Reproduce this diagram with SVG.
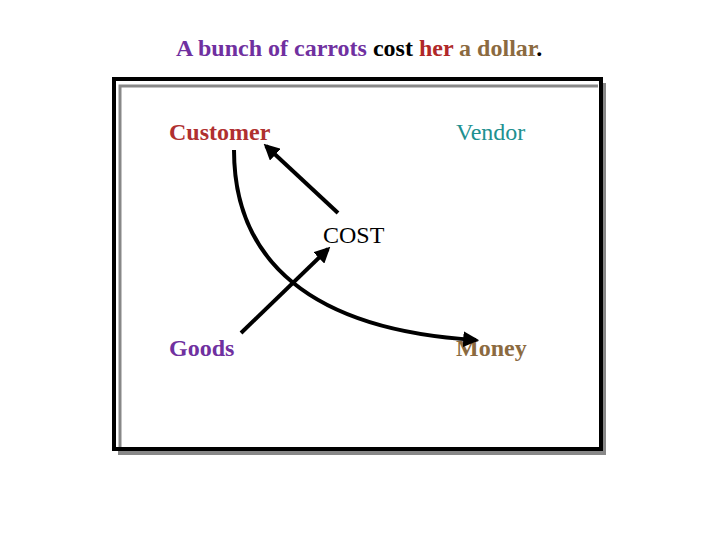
<svg xmlns="http://www.w3.org/2000/svg" width="720" height="540" viewBox="0 0 720 540">
<style>
text{font-family:"Liberation Serif","Times New Roman",serif;font-size:24px}
.b{font-weight:bold}
.c{fill:none;stroke:#000;stroke-width:4;marker-end:url(#ah)}
</style>
<defs><marker id="ah" viewBox="0 0 10 10" refX="8" refY="5" markerWidth="4" markerHeight="4" orient="auto" markerUnits="strokeWidth"><path d="M0,0L10,5L0,10z" fill="#000"/></marker></defs>
<rect width="720" height="540" fill="#fff"/>
<text x="176" y="56" class="b"><tspan fill="#7030A0">A bunch of carrots</tspan> <tspan fill="#000">cost</tspan> <tspan fill="#B02828">her</tspan> <tspan fill="#8B6A40">a dollar</tspan><tspan fill="#000">.</tspan></text>
<g id="frame">
<path d="M118,453H604V83" fill="none" stroke="#888" stroke-width="4"/>
<path d="M120,448V86H598" fill="none" stroke="#888" stroke-width="3"/>
<rect x="114" y="79" width="487" height="370" fill="none" stroke="#000" stroke-width="4"/>
</g>
<g id="customer"><text x="169" y="140" class="b" fill="#B03030">Customer</text></g>
<g id="vendor"><text x="456" y="140" fill="#209090">Vendor</text></g>
<g id="cost"><text x="323" y="243" fill="#000">COST</text></g>
<g id="goods"><text x="169" y="356" class="b" fill="#7030A0">Goods</text></g>
<g id="money"><text x="456" y="356" class="b" fill="#8B6A40">Money</text></g>
<g id="connectors">
<path class="c" d="M338,213L266,146"/>
<path class="c" d="M241,333L328,249"/>
<path class="c" d="M234,150C234,260 310,330 476,340"/>
</g>
</svg>
